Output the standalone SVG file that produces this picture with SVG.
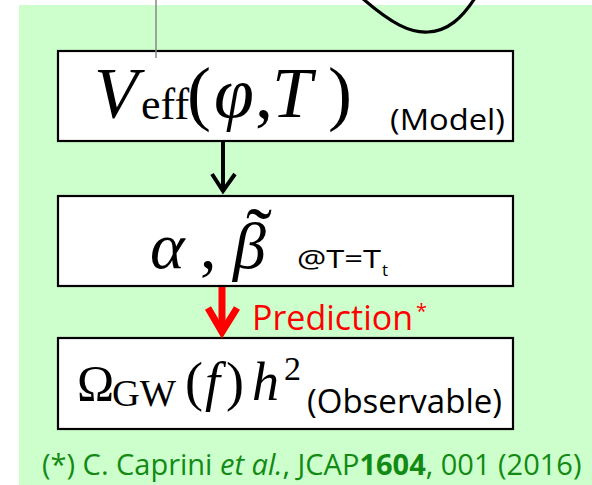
<svg xmlns="http://www.w3.org/2000/svg" width="592" height="485" viewBox="0 0 592 485">
<style>
.box{fill:#fff;stroke:#000;stroke-width:2.2}
.m{font-family:"Liberation Serif","DejaVu Serif",serif;fill:#000}
.i{font-style:italic}
.s{font-family:"Open Sans","Liberation Sans",sans-serif;fill:#000}
.blk{stroke:#000;stroke-width:4;fill:none}
.red{stroke:#f00;stroke-width:7;fill:none}
</style>
<rect x="19" y="5" width="573" height="480" fill="#ccffcc"/>
<path d="M362,-2 C392,24 410,33 428,32 C448,31 462,18 475,-2" fill="none" stroke="#000" stroke-width="3.2"/>
<g id="n1">
<rect class="box" x="58" y="51" width="455" height="90"/>
<text class="m" y="117" font-size="72"><tspan class="i" x="94">V</tspan></text>
<text class="m" x="141" y="119" font-size="44">eff</text>
<text class="m" y="117" font-size="72"><tspan x="187">(</tspan><tspan class="i" x="214">φ</tspan><tspan x="255">,</tspan><tspan class="i" x="272">T</tspan><tspan x="328">)</tspan></text>
<text class="s" x="390" y="130" font-size="30" textLength="115" lengthAdjust="spacingAndGlyphs">(Model)</text>
</g>
<line x1="156" y1="0" x2="156" y2="58" stroke="#888" stroke-width="1.5"/>
<g id="n2">
<rect class="box" x="58" y="196" width="455" height="90"/>
<text class="m i" x="150" y="268" font-size="66">α</text>
<text class="m" x="200" y="268" font-size="66">,</text>
<text class="m i" x="233" y="268" font-size="66">β</text>
<text class="m" x="259" y="262" font-size="78" text-anchor="middle">˜</text>
<text class="s" x="297" y="268" font-size="25" textLength="84" lengthAdjust="spacingAndGlyphs">@T=T</text>
<text class="s" x="382" y="276" font-size="17">t</text>
</g>
<g id="n3">
<rect class="box" x="58" y="338" width="455" height="91"/>
<text class="m" x="77" y="400" font-size="50">Ω</text>
<text class="m" x="112" y="406" font-size="38" textLength="64" lengthAdjust="spacingAndGlyphs">GW</text>
<text class="m" y="400" font-size="54"><tspan x="185">(</tspan><tspan class="i" x="205">f</tspan><tspan x="226">)</tspan><tspan class="i" x="252">h</tspan></text>
<text class="m" x="284" y="380" font-size="34">2</text>
<text class="s" x="307" y="413" font-size="32" textLength="195" lengthAdjust="spacingAndGlyphs">(Observable)</text>
</g>
<g id="connectors">
<line class="blk" x1="223" y1="142" x2="223" y2="190"/>
<path class="blk" d="M212,174 L223,191 L235,174"/>
<line class="red" x1="222" y1="287" x2="222" y2="330"/>
<path class="red" d="M208,308 L222,332 L237,308"/>
<text x="252" y="330" font-family="'Open Sans','Liberation Sans',sans-serif" font-size="34" fill="#f00" textLength="161" lengthAdjust="spacingAndGlyphs">Prediction</text>
<text x="416" y="318" font-family="'Open Sans','Liberation Sans',sans-serif" font-size="20" fill="#f00">*</text>
</g>
<text x="42" y="475" font-family="'Open Sans','Liberation Sans',sans-serif" font-size="29" fill="#138a13">(*) C. Caprini <tspan font-style="italic">et al.</tspan>, JCAP<tspan font-weight="bold">1604</tspan>, 001 (2016)</text>
</svg>
